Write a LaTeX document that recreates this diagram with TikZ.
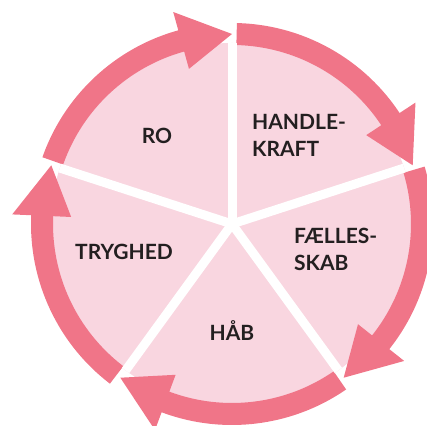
\documentclass[tikz,border=0pt]{standalone}
\usepackage{fontspec}
\setmainfont{Lato}
\definecolor{ringpink}{RGB}{240, 117, 136}
\definecolor{piepink}{RGB}{249, 214, 224}
\definecolor{labelink}{RGB}{35, 31, 32}
\usetikzlibrary{calc}

\begin{document}
\begin{tikzpicture}[x=1pt, y=1pt,
  label/.style={text=labelink, inner sep=0pt, font=\fontsize{21}{27}\selectfont\bfseries},
  spoke/.style={draw=white, line width=9pt},
  cyclearrow/.style={fill=ringpink, draw=none}]
  \useasboundingbox (0,0) rectangle (427,425);
  \coordinate (c) at (232,201);

  % pie
  \fill[piepink] (c) circle[radius=181];

  % ring of arrows, clockwise
  \foreach \a in {90,18,-54,-126,162} {
    \pgfmathsetmacro{\s}{\a-1.4}
    \pgfmathsetmacro{\t}{\a-72}
    \pgfmathsetmacro{\b}{\a-72+15.5}
    \fill[cyclearrow, shift={(c)}]
      (\s:201) arc[start angle=\s, end angle=\b, radius=201]
      -- (\b:220) -- (\t:190) -- (\b:161) -- (\b:179)
      arc[start angle=\b, end angle=\s, radius=179] -- cycle;
  }

  % white spokes between the sectors
  \foreach \a in {90,18,-54,-126,162}
    \draw[spoke] (c) -- ($(c)+(\a:181)$);

  \node[label, anchor=base] (ro) at (157,281.7) {RO};
  \node[label, anchor=west, align=left] (handlekraft) at (252,290) {HANDLE-\\KRAFT};
  \node[label, anchor=west, align=left] (faellesskab) at (294,176) {FÆLLES-\\SKAB};
  \node[label, anchor=base] (haab) at (232,85) {HÅB};
  \node[label, anchor=base] (tryghed) at (124,165.7) {TRYGHED};
\end{tikzpicture}
\end{document}
